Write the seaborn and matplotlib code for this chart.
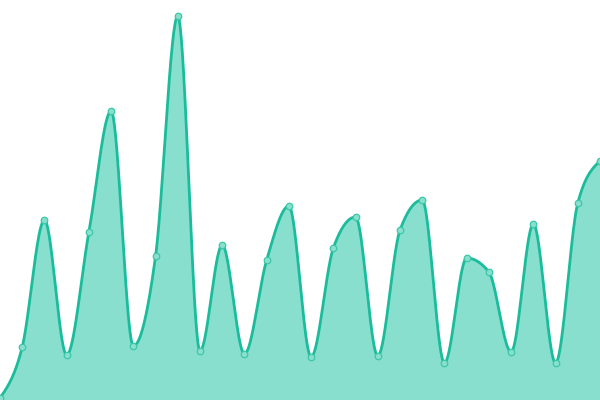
import numpy as np
import pandas as pd
import matplotlib
matplotlib.use("Agg")
import matplotlib.pyplot as plt
import seaborn as sns

# values (0-400 scale)
idx = list(range(28))
values = [2, 53, 180, 45, 168, 289, 54, 144, 384, 49, 155, 46, 140, 194,
          43, 152, 183, 44, 170, 200, 37, 142, 128, 48, 176, 37, 197, 239]

LINE = "#1abc9c"
FILL = "#89dfce"


def monotone_x(xs, ys, n=40):
    """Monotone cubic through the points (same rule as d3 curveMonotoneX)"""
    x = np.asarray(xs, float)
    y = np.asarray(ys, float)
    h = np.diff(x)
    s = np.diff(y) / h
    t = np.zeros(len(x))
    for i in range(1, len(x) - 1):
        p = (s[i - 1] * h[i] + s[i] * h[i - 1]) / (h[i - 1] + h[i])
        t[i] = (np.sign(s[i - 1]) + np.sign(s[i])) * min(abs(s[i - 1]), abs(s[i]), 0.5 * abs(p))
    t[0] = (3 * s[0] - t[1]) / 2
    t[-1] = (3 * s[-1] - t[-2]) / 2
    u = np.linspace(0, 1, n)
    px, py = [], []
    for i in range(len(x) - 1):
        dx = (x[i + 1] - x[i]) / 3
        c0, c1 = y[i], y[i] + dx * t[i]
        c2, c3 = y[i + 1] - dx * t[i + 1], y[i + 1]
        b = ((1 - u) ** 3) * c0 + 3 * ((1 - u) ** 2) * u * c1 + 3 * (1 - u) * u**2 * c2 + u**3 * c3
        px.append(x[i] + u * (x[i + 1] - x[i]))
        py.append(b)
    return np.concatenate(px), np.concatenate(py)


sns.set_style("white")
df = pd.DataFrame({"x": idx, "y": values})
cx, cy = monotone_x(df["x"], df["y"])
cdf = pd.DataFrame({"x": cx, "y": cy})

fig = plt.figure(figsize=(6, 4), dpi=100)
ax = fig.add_axes([0, 0, 1, 1])

ax.fill_between(cdf["x"], cdf["y"], 0, color=FILL, linewidth=0)
sns.lineplot(data=cdf, x="x", y="y", ax=ax, color=LINE, linewidth=2.0,
             sort=False, estimator=None)
sns.scatterplot(data=df, x="x", y="y", ax=ax, s=22, color=FILL,
                edgecolor="#3cc7a8", linewidth=0.9, zorder=3)

ax.set_xlim(0, 27)
ax.set_ylim(0, 400)
ax.axis("off")

fig.savefig("out.png", dpi=100)
